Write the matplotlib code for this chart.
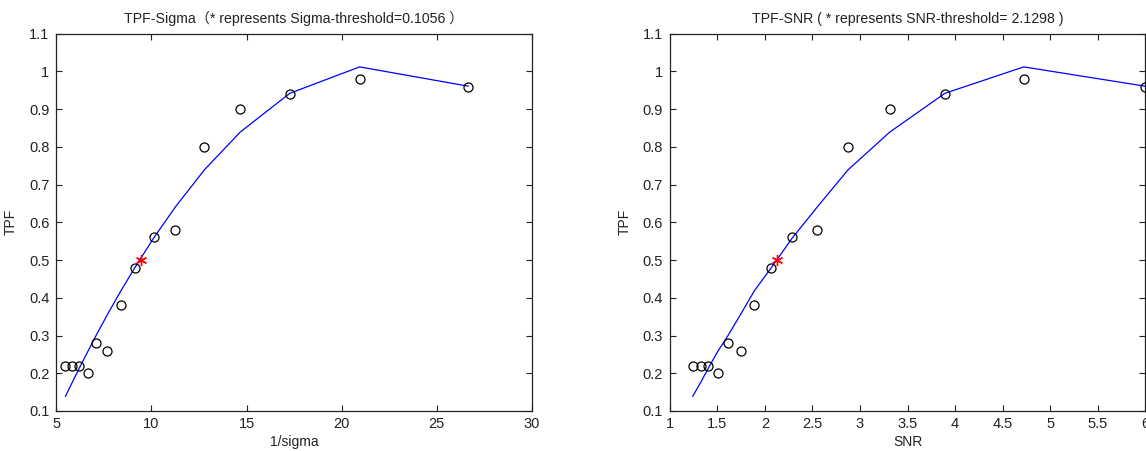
import matplotlib
matplotlib.use("Agg")
import matplotlib.pyplot as plt

plt.rcParams['font.family'] = ['Liberation Sans', 'Noto Sans CJK SC', 'DejaVu Sans']

# ---- data ----
tpf = [0.22, 0.22, 0.22, 0.20, 0.28, 0.26, 0.38, 0.48, 0.56, 0.58, 0.80, 0.90, 0.94, 0.98, 0.96]
inv_sigma = [5.48, 5.84, 6.21, 6.65, 7.11, 7.69, 8.40, 9.13, 10.11, 11.26, 12.78, 14.66, 17.27, 20.94, 26.64]
snr = [1.242, 1.326, 1.407, 1.503, 1.618, 1.745, 1.891, 2.068, 2.287, 2.552, 2.874, 3.312, 3.892, 4.721, 5.995]
fit_tpf = [0.139, 0.176, 0.214, 0.257, 0.302, 0.356, 0.419, 0.480, 0.558, 0.641, 0.739, 0.839, 0.942, 1.012, 0.961]

sigma_thr_x = 9.47
snr_thr_x = 2.1298
thr_tpf = 0.5

left_title = "TPF-Sigma（* represents Sigma-threshold=0.1056 ）"
right_title = "TPF-SNR ( * represents SNR-threshold= 2.1298 )"

left_xticks = [5, 10, 15, 20, 25, 30]
right_xticks = [1, 1.5, 2, 2.5, 3, 3.5, 4, 4.5, 5, 5.5, 6]
right_xticklabels = ["1", "1.5", "2", "2.5", "3", "3.5", "4", "4.5", "5", "5.5", "6"]
yticks = [0.1, 0.2, 0.3, 0.4, 0.5, 0.6, 0.7, 0.8, 0.9, 1.0, 1.1]
yticklabels = ["0.1", "0.2", "0.3", "0.4", "0.5", "0.6", "0.7", "0.8", "0.9", "1", "1.1"]

W, H = 1146, 451
fig = plt.figure(figsize=(W / 100, H / 100), dpi=100)
fig.patch.set_facecolor('white')

def frac(x0, y0, x1, y1):
    return [x0 / W, 1 - y1 / H, (x1 - x0) / W, (y1 - y0) / H]

ax1 = fig.add_axes(frac(56.3, 33.7, 532, 411))
ax2 = fig.add_axes(frac(669.7, 33.7, 1145.4, 411))

def style(ax, x, thr_x, xlim, xticks, xticklabels, title, xlabel, ylabel_pad):
    ax.plot(x, fit_tpf, color='#0000ff', lw=0.9, zorder=2)
    ax.plot(x, tpf, linestyle='none', marker='o', markersize=6.5,
            markerfacecolor='none', markeredgecolor='black', markeredgewidth=0.9,
            zorder=3, clip_on=False)
    ax.plot([thr_x], [thr_tpf], linestyle='none', marker=(6, 2, 0), markersize=8,
            color='red', markeredgewidth=1.0, zorder=4)
    ax.set_xlim(*xlim)
    ax.set_ylim(0.1, 1.1)
    ax.set_xticks(xticks)
    if xticklabels is not None:
        ax.set_xticklabels(xticklabels)
    ax.set_yticks(yticks)
    ax.set_yticklabels(yticklabels)
    ax.tick_params(direction='in', length=4, width=0.8, top=True, right=True,
                   labelsize=10.5, colors='#222222', pad=5)
    ax.tick_params(axis='x', pad=4)
    for s in ax.spines.values():
        s.set_linewidth(0.9)
        s.set_color('#222222')
    ax.set_title(title, fontsize=10.2, color='#222222', pad=8)
    ax.set_xlabel(xlabel, fontsize=10, color='#222222', labelpad=3)
    ax.set_ylabel('TPF', fontsize=10, color='#222222', labelpad=ylabel_pad)

style(ax1, inv_sigma, sigma_thr_x, (5, 30), left_xticks, None, left_title, '1/sigma', 8)
style(ax2, snr, snr_thr_x, (1, 6), right_xticks, right_xticklabels, right_title, 'SNR', 8)

fig.savefig('out.png', dpi=100, facecolor='white')
